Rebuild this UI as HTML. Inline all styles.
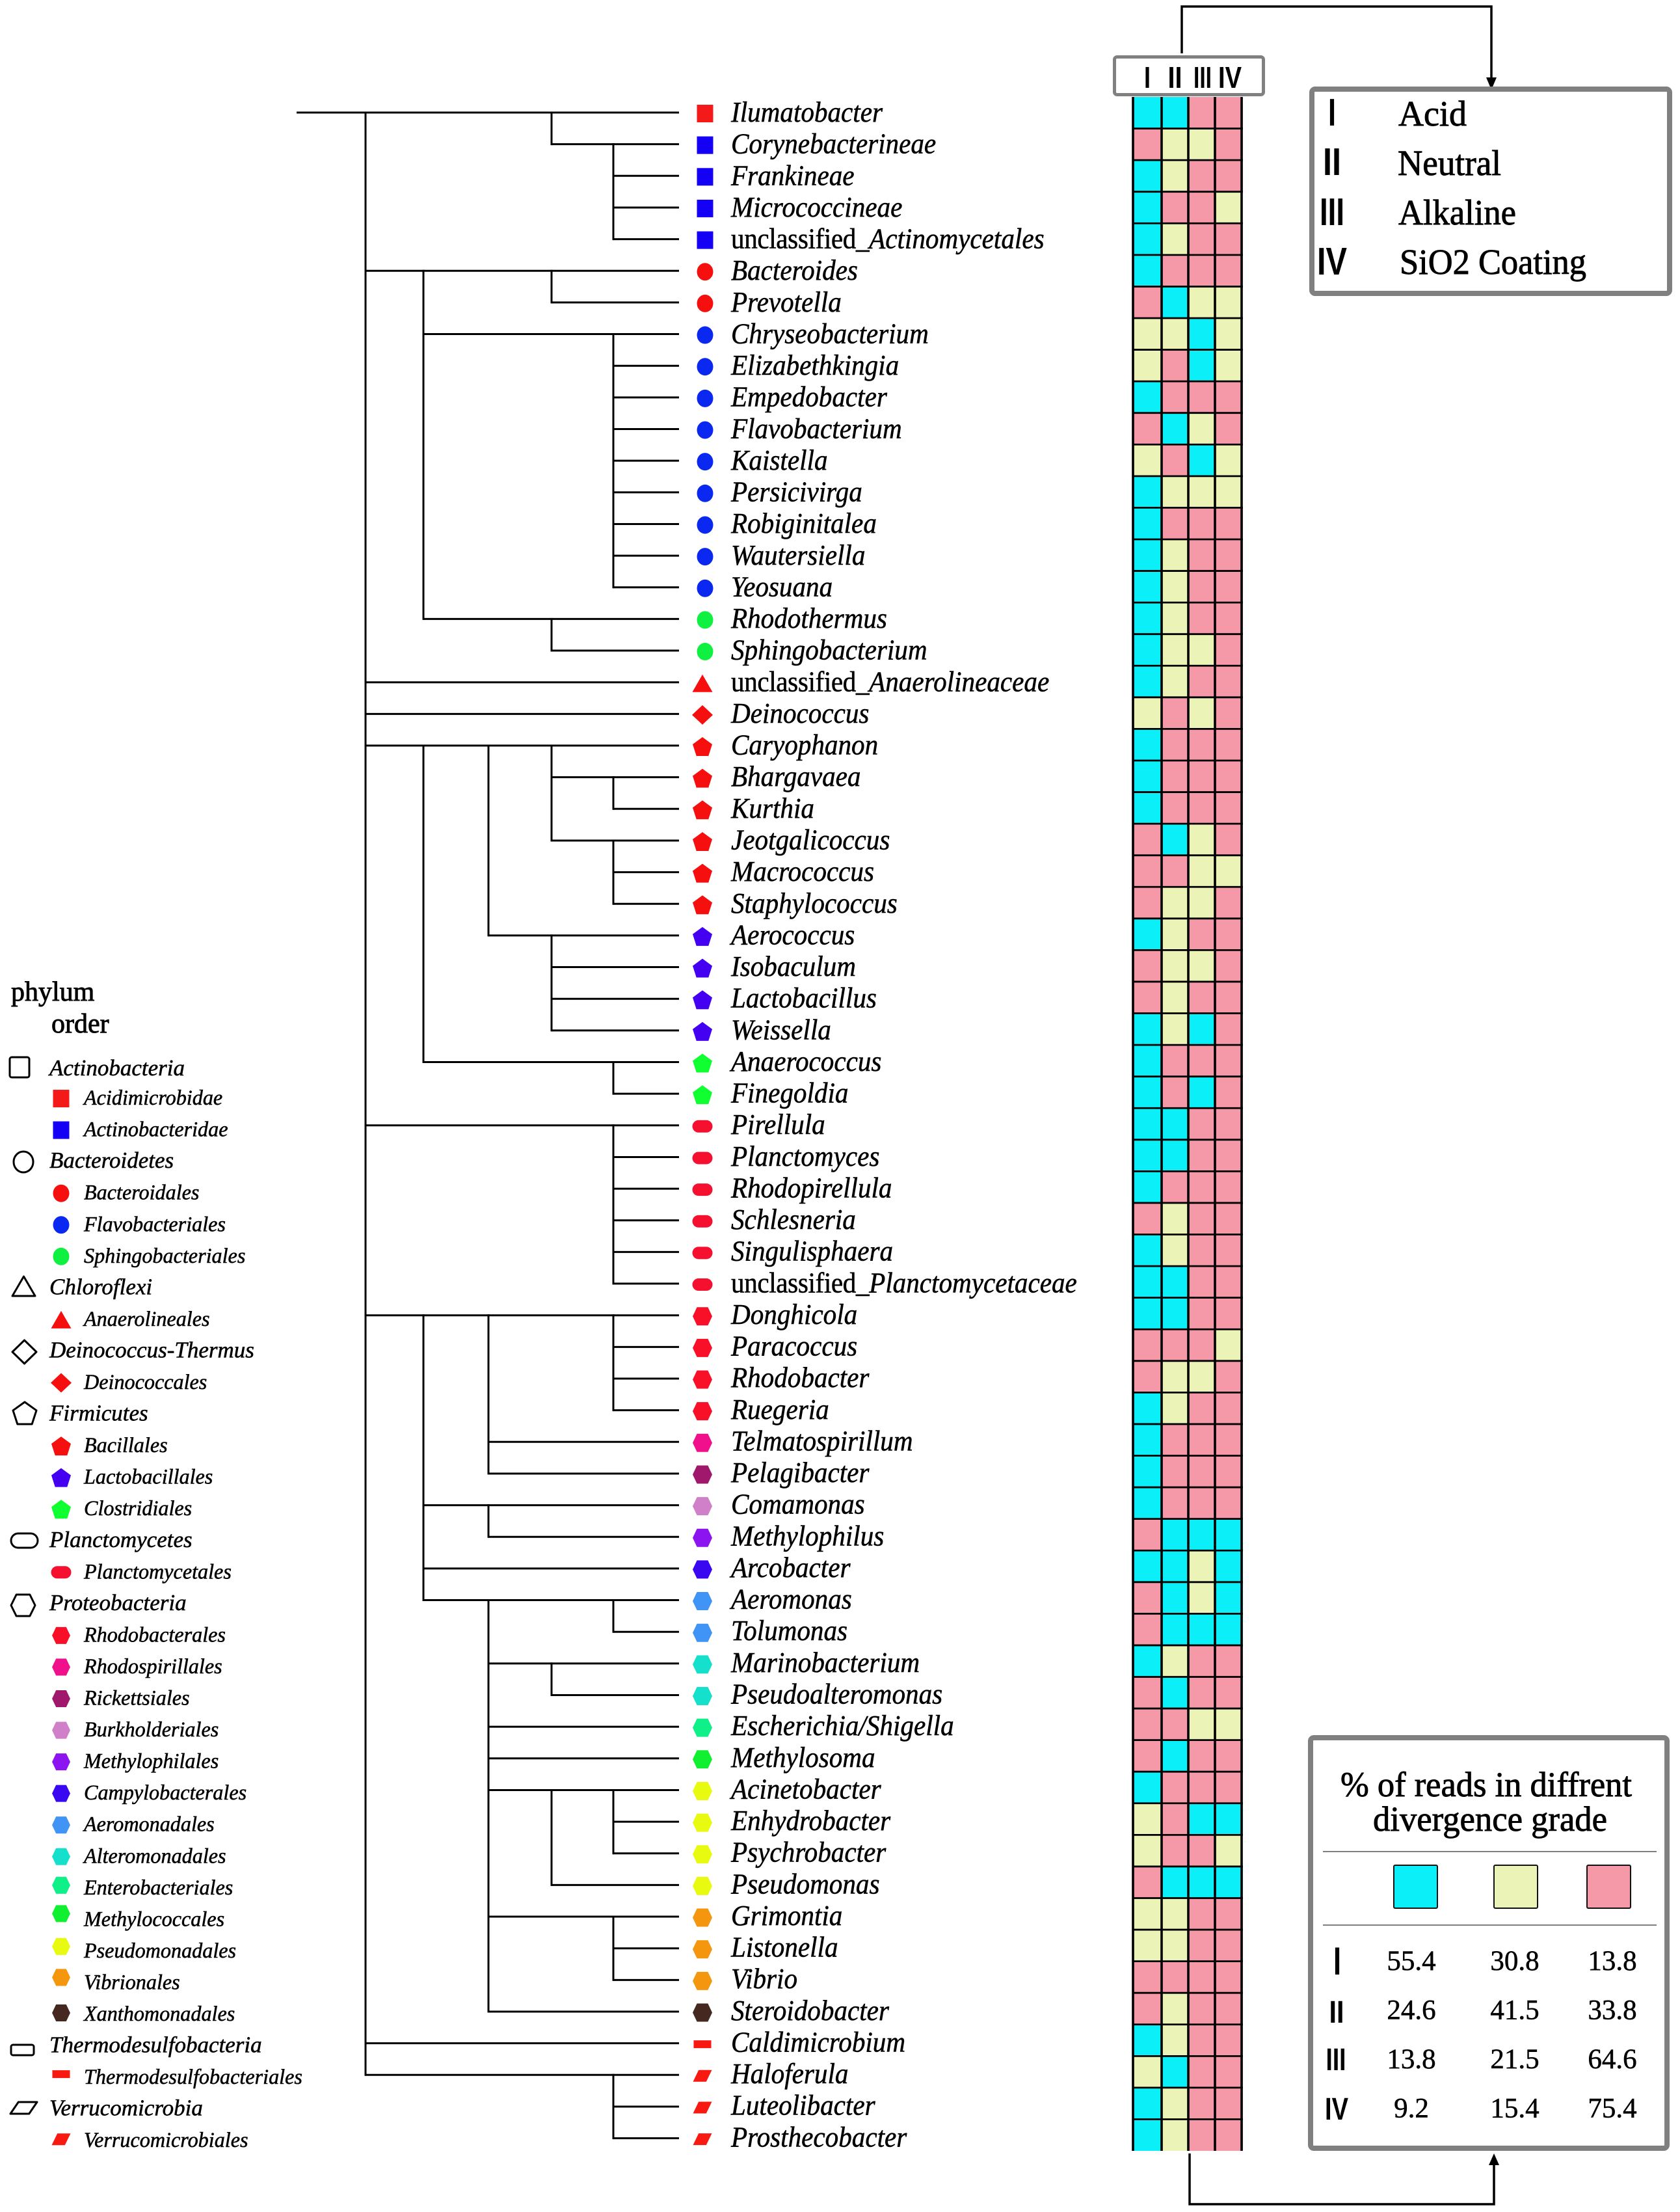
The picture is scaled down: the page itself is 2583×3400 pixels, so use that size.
<!DOCTYPE html>
<html lang="en">
<head>
<meta charset="utf-8">
<title>Divergence grade of bacterial taxa</title>
<style>
html,body{margin:0;padding:0;background:#fff;}
svg{display:block;}
text{font-family:"Liberation Serif",serif;fill:#000;stroke:#000;stroke-width:.55px;}
.sans{font-family:"Liberation Sans",sans-serif;font-weight:700;stroke:none;}
.heavy{stroke-width:.9px;}
</style>
</head>
<body>
<svg id="chart" xmlns="http://www.w3.org/2000/svg" width="2583" height="3400" viewBox="0 0 2583 3400">
  <rect x="0" y="0" width="2583" height="3400" fill="#fff"/>
  <g id="tree"></g>
  <g id="leaves"></g>
  <g id="grid"></g>
  <g id="legend">
    <text class="heavy" x="17" y="1538" font-size="42">phylum</text>
    <text class="heavy" x="79" y="1587" font-size="42">order</text>
  </g>

  <g>
    <rect x="1713.5" y="87.5" width="229" height="58" rx="4" fill="#fff" stroke="#808080" stroke-width="5"/>
    <text class="sans" x="1764" y="135" font-size="46" text-anchor="middle" textLength="10" lengthAdjust="spacingAndGlyphs">I</text>
    <text class="sans" x="1806.5" y="135" font-size="46" text-anchor="middle" textLength="22" lengthAdjust="spacingAndGlyphs">II</text>
    <text class="sans" x="1849" y="135" font-size="46" text-anchor="middle" textLength="28" lengthAdjust="spacingAndGlyphs">III</text>
    <text class="sans" x="1891" y="135" font-size="46" text-anchor="middle" textLength="36" lengthAdjust="spacingAndGlyphs">IV</text>
  </g>

  <g fill="none" stroke="#000">
    <polyline points="1817,82 1817,10 2293,10 2293,122" stroke-width="3.5"/>
    <polygon points="2285,119 2301,119 2293,138" fill="#000" stroke="none"/>
  </g>

  <g>
    <rect x="2017" y="137" width="550" height="314" rx="5" fill="#fff" stroke="#808080" stroke-width="8"/>
    <text class="sans" x="2048" y="193" font-size="59" text-anchor="middle" textLength="12" lengthAdjust="spacingAndGlyphs">I</text>
    <text class="sans" x="2048" y="269" font-size="59" text-anchor="middle" textLength="28" lengthAdjust="spacingAndGlyphs">II</text>
    <text class="sans" x="2048" y="346" font-size="59" text-anchor="middle" textLength="38" lengthAdjust="spacingAndGlyphs">III</text>
    <text class="sans" x="2048" y="422" font-size="59" text-anchor="middle" textLength="46" lengthAdjust="spacingAndGlyphs">IV</text>
    <text class="heavy" x="2150" y="193" font-size="55" textLength="105" lengthAdjust="spacingAndGlyphs">Acid</text>
    <text class="heavy" x="2149" y="269" font-size="55" textLength="159" lengthAdjust="spacingAndGlyphs">Neutral</text>
    <text class="heavy" x="2150" y="345" font-size="55" textLength="181" lengthAdjust="spacingAndGlyphs">Alkaline</text>
    <text class="heavy" x="2152" y="421" font-size="55" textLength="287" lengthAdjust="spacingAndGlyphs">SiO2 Coating</text>
  </g>

  <g fill="none" stroke="#000">
    <polyline points="1829,3310 1829,3388 2297,3388 2297,3325" stroke-width="3.5"/>
    <polygon points="2289,3328 2305,3328 2297,3310" fill="#000" stroke="none"/>
  </g>

  <g id="summary">
    <rect x="2015" y="2671" width="548" height="631" rx="5" fill="#fff" stroke="#808080" stroke-width="8"/>
    <text class="heavy" x="2061" y="2761" font-size="54" textLength="448" lengthAdjust="spacingAndGlyphs">% of reads in diffrent</text>
    <text class="heavy" x="2111" y="2814" font-size="54" textLength="360" lengthAdjust="spacingAndGlyphs">divergence grade</text>
    <line x1="2034" y1="2846" x2="2547" y2="2846" stroke="#555" stroke-width="1.5"/>
    <line x1="2034" y1="2959" x2="2547" y2="2959" stroke="#555" stroke-width="1.5"/>
    <rect x="2143" y="2867" width="67" height="66" rx="2" fill="#0BF0F8" stroke="#111" stroke-width="2"/>
    <rect x="2297" y="2867" width="67" height="66" rx="2" fill="#EBF3B6" stroke="#111" stroke-width="2"/>
    <rect x="2440" y="2867" width="67" height="66" rx="2" fill="#F598A8" stroke="#111" stroke-width="2"/>
    <text class="sans" x="2056" y="3035" font-size="60" text-anchor="middle" textLength="12" lengthAdjust="spacingAndGlyphs">I</text>
    <text class="sans" x="2055" y="3109" font-size="48" text-anchor="middle" textLength="23" lengthAdjust="spacingAndGlyphs">II</text>
    <text class="sans" x="2054" y="3182" font-size="48" text-anchor="middle" textLength="31" lengthAdjust="spacingAndGlyphs">III</text>
    <text class="sans" x="2055" y="3258" font-size="48" text-anchor="middle" textLength="36" lengthAdjust="spacingAndGlyphs">IV</text>
  </g>
</svg>

<script>
// ---------- data ----------
const taxa = ["Ilumatobacter","Corynebacterineae","Frankineae","Micrococcineae","unclassified_Actinomycetales","Bacteroides","Prevotella","Chryseobacterium","Elizabethkingia","Empedobacter","Flavobacterium","Kaistella","Persicivirga","Robiginitalea","Wautersiella","Yeosuana","Rhodothermus","Sphingobacterium","unclassified_Anaerolineaceae","Deinococcus","Caryophanon","Bhargavaea","Kurthia","Jeotgalicoccus","Macrococcus","Staphylococcus","Aerococcus","Isobaculum","Lactobacillus","Weissella","Anaerococcus","Finegoldia","Pirellula","Planctomyces","Rhodopirellula","Schlesneria","Singulisphaera","unclassified_Planctomycetaceae","Donghicola","Paracoccus","Rhodobacter","Ruegeria","Telmatospirillum","Pelagibacter","Comamonas","Methylophilus","Arcobacter","Aeromonas","Tolumonas","Marinobacterium","Pseudoalteromonas","Escherichia/Shigella","Methylosoma","Acinetobacter","Enhydrobacter","Psychrobacter","Pseudomonas","Grimontia","Listonella","Vibrio","Steroidobacter","Caldimicrobium","Haloferula","Luteolibacter","Prosthecobacter"];

const taxonOrders = ["Acidimicrobidae","Actinobacteridae","Actinobacteridae","Actinobacteridae","Actinobacteridae","Bacteroidales","Bacteroidales","Flavobacteriales","Flavobacteriales","Flavobacteriales","Flavobacteriales","Flavobacteriales","Flavobacteriales","Flavobacteriales","Flavobacteriales","Flavobacteriales","Sphingobacteriales","Sphingobacteriales","Anaerolineales","Deinococcales","Bacillales","Bacillales","Bacillales","Bacillales","Bacillales","Bacillales","Lactobacillales","Lactobacillales","Lactobacillales","Lactobacillales","Clostridiales","Clostridiales","Planctomycetales","Planctomycetales","Planctomycetales","Planctomycetales","Planctomycetales","Planctomycetales","Rhodobacterales","Rhodobacterales","Rhodobacterales","Rhodobacterales","Rhodospirillales","Rickettsiales","Burkholderiales","Methylophilales","Campylobacterales","Aeromonadales","Aeromonadales","Alteromonadales","Alteromonadales","Enterobacteriales","Methylococcales","Pseudomonadales","Pseudomonadales","Pseudomonadales","Pseudomonadales","Vibrionales","Vibrionales","Vibrionales","Xanthomonadales","Thermodesulfobacteriales","Verrucomicrobiales","Verrucomicrobiales","Verrucomicrobiales"];

// divergence grade per taxon, columns I II III IV: 0 = cyan, 1 = yellow, 2 = pink
const gradeRows = [
[0,0,2,2],[2,1,1,2],[0,1,2,2],[0,2,2,1],[0,1,2,2],[0,2,2,2],[2,0,1,1],[1,1,0,1],[1,2,0,1],[0,2,2,2],
[2,0,1,2],[1,2,0,1],[0,1,1,1],[0,2,2,2],[0,1,2,2],[0,1,2,2],[0,1,2,2],[0,1,1,2],[0,1,2,2],[1,2,1,2],
[0,2,2,2],[0,2,2,2],[0,2,2,2],[2,0,1,2],[2,2,1,1],[2,1,1,2],[0,1,2,2],[2,1,1,2],[2,1,2,2],[0,1,0,2],
[0,2,2,2],[0,2,0,2],[0,0,2,2],[0,0,2,2],[0,2,2,2],[2,1,2,2],[0,1,2,2],[0,0,2,2],[0,0,2,2],[2,2,2,1],
[2,1,1,2],[0,1,2,2],[0,2,2,2],[0,2,2,2],[0,2,2,2],[2,0,0,0],[0,0,1,0],[2,0,1,0],[2,0,0,0],[0,1,2,2],
[2,0,2,2],[2,2,1,1],[2,0,2,2],[0,2,2,2],[1,2,0,0],[1,2,2,1],[2,0,0,0],[1,1,2,2],[1,1,2,2],[2,2,2,2],
[2,1,2,2],[0,1,2,2],[1,0,2,2],[0,1,2,2],[0,1,2,2]];

// tree depth at which each leaf's branch starts
const leafDepths = [0,4,5,5,5,1,4,2,5,5,5,5,5,5,5,5,2,4,1,1,1,4,5,4,5,5,3,4,4,4,2,5,1,5,5,5,5,5,1,5,5,5,3,3,2,3,2,2,5,3,4,3,3,3,5,5,4,3,5,5,3,1,1,5,5];

// clades: depth, first leaf, last leaf
const clades = [[1,0,62],[4,0,1],[5,1,4],[2,5,16],[4,5,6],[5,7,15],[4,16,17],[2,20,30],[3,20,26],[4,20,23],[5,21,22],[5,23,25],[4,26,29],[5,30,31],[5,32,37],[2,38,47],[3,38,43],[5,38,41],[3,44,45],[3,47,60],[5,47,48],[4,49,50],[4,53,56],[5,53,55],[5,57,59],[5,62,64]];

const legendEntries = [["p","Actinobacteria"],["o","Acidimicrobidae"],["o","Actinobacteridae"],["p","Bacteroidetes"],["o","Bacteroidales"],["o","Flavobacteriales"],["o","Sphingobacteriales"],["p","Chloroflexi"],["o","Anaerolineales"],["p","Deinococcus-Thermus"],["o","Deinococcales"],["p","Firmicutes"],["o","Bacillales"],["o","Lactobacillales"],["o","Clostridiales"],["p","Planctomycetes"],["o","Planctomycetales"],["p","Proteobacteria"],["o","Rhodobacterales"],["o","Rhodospirillales"],["o","Rickettsiales"],["o","Burkholderiales"],["o","Methylophilales"],["o","Campylobacterales"],["o","Aeromonadales"],["o","Alteromonadales"],["o","Enterobacteriales"],["o","Methylococcales"],["o","Pseudomonadales"],["o","Vibrionales"],["o","Xanthomonadales"],["p","Thermodesulfobacteria"],["o","Thermodesulfobacteriales"],["p","Verrucomicrobia"],["o","Verrucomicrobiales"]];

const summaryCyan = ["55.4","24.6","13.8","9.2"];
const summaryYellow = ["30.8","41.5","21.5","15.4"];
const summaryPink = ["13.8","33.8","64.6","75.4"];

// ---------- styles ----------
const gradeColors = ["#0BF0F8","#EBF3B6","#F598A8"];
const orderStyles = {
  Acidimicrobidae:["square","#F51A1A"],Actinobacteridae:["square","#1400F5"],
  Bacteroidales:["circle","#F5100F"],Flavobacteriales:["circle","#0A28F0"],Sphingobacteriales:["circle","#10F040"],
  Anaerolineales:["triangle","#F5100F"],Deinococcales:["diamond","#F5100F"],
  Bacillales:["pentagon","#F5100F"],Lactobacillales:["pentagon","#4400F0"],Clostridiales:["pentagon","#10FF30"],
  Planctomycetales:["pill","#F5102F"],Rhodobacterales:["hexagon","#F80F28"],Rhodospirillales:["hexagon","#F0108C"],
  Rickettsiales:["hexagon","#A0186C"],Burkholderiales:["hexagon","#D080C8"],Methylophilales:["hexagon","#8C14F0"],
  Campylobacterales:["hexagon","#3A08F0"],Aeromonadales:["hexagon","#4094F5"],Alteromonadales:["hexagon","#14E0CC"],
  Enterobacteriales:["hexagon","#10F088"],Methylococcales:["hexagon","#10F030"],Pseudomonadales:["hexagon","#E8FA10"],
  Vibrionales:["hexagon","#F5960F"],Xanthomonadales:["hexagon","#45281F"],
  Thermodesulfobacteriales:["bar","#F81A10"],Verrucomicrobiales:["parallelogram","#F81A10"]
};
const phylumShapes = {
  Actinobacteria:["square",30,1640.5,30,31],Bacteroidetes:["circle",36,1786,30,32],Chloroflexi:["triangle",36.5,1977,35,30],
  "Deinococcus-Thermus":["diamond",37.5,2078,37,36],Firmicutes:["pentagon",38,2172,36,34],Planctomycetes:["pill",37.5,2368,41,22],
  Proteobacteria:["hexagon",35.5,2467.5,37,33],Thermodesulfobacteria:["bar",34.5,3151,35,16],Verrucomicrobia:["parallelogram",36.5,3240,41,18]
};
const markerSizes = {square:[25,27],circle:[25,27],triangle:[31,27],diamond:[32,30],pentagon:[30,29],pill:[31,19],hexagon:[30,28],bar:[27,12],parallelogram:[29,18]};
const legendLift = {Enterobacteriales:14,Methylococcales:19,Pseudomonadales:17,Vibrionales:18,Xanthomonadales:12,Thermodesulfobacteriales:15,Verrucomicrobiales:12};

// ---------- axis functions ----------
const NS = "http://www.w3.org/2000/svg";
const leafY = i => 173 + i * 48.65;
const labelBaseline = i => 187 + i * 48.63;
const depthX = d => d === 0 ? 456 : d === 1 ? 562 : d === 2 ? 651 : d === 3 ? 751 : d === 4 ? 848 : 943;
const leafEndX = 1044;
const gridRowY = i => 149 + i * 48.57;
const gridColX = j => j === 0 ? 1742 : 1745 + 41 * j;
const legendBaseline = k => k === 0 ? 1653 : 1649.5 + k * 48.55;

function make(tag, parent, attrs) {
  const el = document.createElementNS(NS, tag);
  for (const k in attrs) el.setAttribute(k, attrs[k]);
  parent.appendChild(el);
  return el;
}
function polyPoints(shape, cx, cy, w, h) {
  const l = cx - w / 2, r = cx + w / 2, t = cy - h / 2, b = cy + h / 2;
  if (shape === "triangle") return [[cx, t], [r, b], [l, b]];
  if (shape === "diamond") return [[cx, t], [r, cy], [cx, b], [l, cy]];
  if (shape === "pentagon") return [[cx, t], [r, t + h * .38], [r - w * .19, b], [l + w * .19, b], [l, t + h * .38]];
  if (shape === "hexagon") return [[l + w * .22, t], [r - w * .22, t], [r, cy], [r - w * .22, b], [l + w * .22, b], [l, cy]];
  return [[l + w * .3, t], [r, t], [r - w * .3, b], [l, b]];
}
function marker(parent, shape, cx, cy, w, h, paint) {
  let el;
  if (shape === "square" || shape === "bar" || shape === "pill") {
    el = make("rect", parent, {x: cx - w / 2, y: cy - h / 2, width: w, height: h});
    if (shape === "pill") el.setAttribute("rx", h / 2);
  } else if (shape === "circle") {
    el = make("ellipse", parent, {cx: cx, cy: cy, rx: w / 2, ry: h / 2});
  } else {
    el = make("polygon", parent, {points: polyPoints(shape, cx, cy, w, h).map(p => p.join(",")).join(" ")});
  }
  for (const k in paint) el.setAttribute(k, paint[k]);
  return el;
}

// ---------- tree ----------
const treeG = document.getElementById("tree");
taxa.forEach((name, i) => {
  const branch = make("line", treeG, {x1: depthX(leafDepths[i]), y1: leafY(i), x2: leafEndX, y2: leafY(i), stroke: "#000", "stroke-width": 3});
  
  
});
clades.forEach(c => {
  const stem = make("line", treeG, {x1: depthX(c[0]), y1: leafY(c[1]) - 1.5, x2: depthX(c[0]), y2: leafY(c[2]) + 1.5, stroke: "#000", "stroke-width": 3});
  
  
});

// ---------- leaf markers and labels ----------
const leavesG = document.getElementById("leaves");
taxa.forEach((name, i) => {
  const style = orderStyles[taxonOrders[i]];
  const size = markerSizes[style[0]];
  const cx = (style[0] === "square" || style[0] === "circle") ? 1084 : 1080;
  const m = marker(leavesG, style[0], cx, leafY(i) + 1.5, size[0], size[1], {fill: style[1]});
  
  
  const t = make("text", leavesG, {transform: "translate(1124," + labelBaseline(i) + ") scale(.935,1)", "font-size": 44});
  
  
  const prefix = name.startsWith("unclassified_") ? "unclassified_" : "";
  if (prefix) {
    const up = make("tspan", t, {"letter-spacing": "-0.4"});
    up.textContent = prefix;
  }
  const it = make("tspan", t, {"font-style": "italic"});
  it.textContent = name.slice(prefix.length);
});

// ---------- heatmap ----------
const gridG = document.getElementById("grid");
gradeRows.forEach((row, i) => {
  row.forEach((grade, j) => {
    const left = gridColX(j) - (j === 0 ? 1 : 0);
    const right = gridColX(j + 1) + (j === 3 ? 2 : 0);
    const cell = make("rect", gridG, {x: left, y: gridRowY(i), width: right - left, height: gridRowY(i + 1) - gridRowY(i), fill: gradeColors[grade]});
    
    
  });
});
for (let i = 1; i < gradeRows.length; i++) {
  const rowLine = make("line", gridG, {x1: gridColX(0) - 1, y1: gridRowY(i), x2: gridColX(4) + 2, y2: gridRowY(i), stroke: "#000", "stroke-width": 2.8});
  
  
}
for (let j = 0; j <= 4; j++) {
  const colLine = make("line", gridG, {x1: gridColX(j), y1: gridRowY(0), x2: gridColX(j), y2: gridRowY(gradeRows.length), stroke: "#000", "stroke-width": 3.6});
  
  
}

// ---------- legend ----------
const legendG = document.getElementById("legend");
legendEntries.forEach((entry, k) => {
  const y = legendBaseline(k);
  const isPhylum = entry[0] === "p";
  const label = make("text", legendG, {transform: "translate(" + (isPhylum ? 76 : 129) + "," + y + ") scale(" + (isPhylum ? 1 : .975) + ",1)", "font-size": isPhylum ? 35 : 33, "font-style": "italic"});
  
  
  label.textContent = entry[1];
  if (isPhylum) {
    const s = phylumShapes[entry[1]];
    const outline = marker(legendG, s[0], s[1], s[2], s[3], s[4], {fill: "#fff", stroke: "#000", "stroke-width": 3, "stroke-linejoin": "round"});
    if (s[0] === "square" || s[0] === "bar") outline.setAttribute("rx", 3);
    
    
  } else {
    const style = orderStyles[entry[1]];
    const size = markerSizes[style[0]];
    const lift = legendLift[entry[1]] || 9.5;
    const dot = marker(legendG, style[0], 94, y - lift, size[0] * (style[0] === "hexagon" ? .93 : 1), size[1] * (style[0] === "hexagon" ? .93 : 1), {fill: style[1]});
    
    
  }
});

// ---------- summary table ----------
const summaryG = document.getElementById("summary");
const summaryRowY = r => 3028 + r * 75.5;
const summaryColumns = [[summaryCyan, 2170], [summaryYellow, 2329], [summaryPink, 2479]];
summaryColumns.forEach(col => {
  col[0].forEach((value, r) => {
    const v = make("text", summaryG, {x: col[1], y: summaryRowY(r), "font-size": 43, "text-anchor": "middle"});
    
    
    v.textContent = value;
  });
});
</script>
</body>
</html>
